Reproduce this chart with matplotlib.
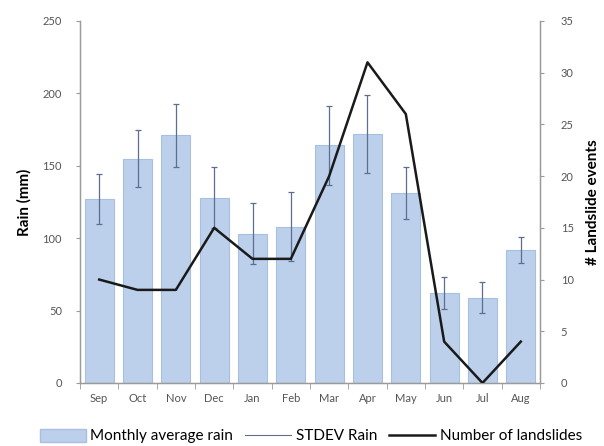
import numpy as np
import matplotlib.pyplot as plt
from matplotlib.patches import Patch
from matplotlib.lines import Line2D

plt.rcParams['font.family'] = ['Lato', 'DejaVu Sans']

months = ['Sep', 'Oct', 'Nov', 'Dec', 'Jan', 'Feb', 'Mar', 'Apr', 'May', 'Jun', 'Jul', 'Aug']
rain_mean = [127, 155, 171, 128, 103, 108, 164, 172, 131, 62, 59, 92]
rain_std = [17, 20, 22, 21, 21, 24, 27, 27, 18, 11, 11, 9]
landslides = [10, 9, 9, 15, 12, 12, 20, 31, 26, 4, 0, 4]

bar_color = '#bcd0ec'
edge_color = '#a9bfe0'
err_color = '#5c6f8f'
axis_color = '#9a9a9a'
tick_color = '#555555'

fig = plt.figure(figsize=(6.04, 4.46), dpi=100)
ax = fig.add_axes([0.1325, 0.1413, 0.7615, 0.8117])
x = np.arange(len(months))

ax.bar(x, rain_mean, width=0.75, color=bar_color, edgecolor=edge_color, linewidth=0.8, zorder=2)
ax.errorbar(x, rain_mean, yerr=rain_std, fmt='none', ecolor=err_color, elinewidth=0.9,
            capsize=2.5, capthick=0.9, zorder=3)

ax.set_xlim(-0.5, len(months) - 0.5)
ax.set_ylim(0, 250)
ax.set_yticks(range(0, 251, 50))
ax.set_xticks(x)
ax.set_xticklabels(months)
ax.set_xticks(np.arange(-0.5, len(months), 1), minor=True)
ax.tick_params(axis='x', which='major', length=0, pad=7, labelsize=8, labelcolor=tick_color)
ax.tick_params(axis='x', which='minor', length=4, color=axis_color)
ax.tick_params(axis='y', length=3, pad=10, color=axis_color, labelsize=8, labelcolor=tick_color)
ax.set_ylabel('Rain (mm)', fontsize=11, fontweight='bold', labelpad=8)

ax2 = ax.twinx()
ax2.plot(x, landslides, color='#1a1a1a', linewidth=1.8, zorder=4)
ax2.set_ylim(0, 35)
ax2.set_yticks(range(0, 36, 5))
ax2.tick_params(axis='y', length=3, pad=12, color=axis_color, labelsize=8, labelcolor=tick_color)
ax2.set_ylabel('# Landslide events', fontsize=11, fontweight='bold', labelpad=9)

for a in (ax, ax2):
    a.spines['top'].set_visible(False)
    for s in ('left', 'right', 'bottom'):
        a.spines[s].set_color(axis_color)
        a.spines[s].set_linewidth(0.9)

handles = [
    Patch(facecolor=bar_color, edgecolor=edge_color),
    Line2D([], [], color=err_color, linewidth=0.8),
    Line2D([], [], color='#1a1a1a', linewidth=1.8),
]
labels = ['Monthly average rain', 'STDEV Rain', 'Number of landslides']
fig.legend(handles, labels, loc='center', bbox_to_anchor=(0.515, 0.022), ncol=3, frameon=False,
           fontsize=11, handlelength=3.0, handleheight=0.9, handletextpad=0.3, columnspacing=0.8)

fig.savefig('out.png', dpi=100)
